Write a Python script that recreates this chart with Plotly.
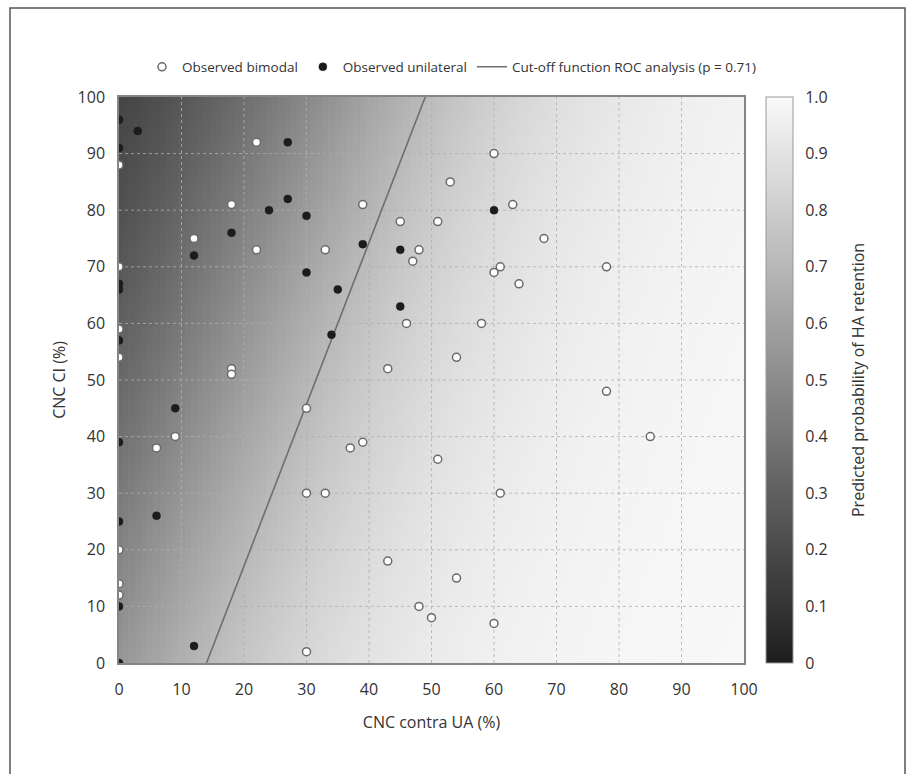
import numpy as np
import plotly.graph_objects as go

# ---- data ----
bimodal_x = [22, 0, 53, 60, 18, 39, 63, 45, 51, 12, 68, 22, 33, 48, 47, 0, 60, 61, 64, 78,
             46, 58, 0, 0, 54, 18, 18, 43, 78, 30, 9, 85, 6, 37, 39, 51, 30, 33, 61, 0,
             43, 54, 0, 0, 48, 50, 60, 30]
bimodal_y = [92, 88, 85, 90, 81, 81, 81, 78, 78, 75, 75, 73, 73, 73, 71, 70, 69, 70, 67, 70,
             60, 60, 59, 54, 54, 52, 51, 52, 48, 45, 40, 40, 38, 38, 39, 36, 30, 30, 30, 20,
             18, 15, 14, 12, 10, 8, 7, 2]

unilateral_x = [0, 3, 0, 27, 27, 24, 30, 18, 12, 39, 45, 60, 30, 35, 0, 0, 45, 34, 0, 9,
                0, 6, 0, 0, 12, 0]
unilateral_y = [96, 94, 91, 92, 82, 80, 79, 76, 72, 74, 73, 80, 69, 66, 67, 66, 63, 58, 57, 45,
                39, 26, 25, 10, 3, 0]

cutoff_x = [14, 49]
cutoff_y = [0, 100]

# logistic model behind the background (estimated from the shading)
model_intercept = 0.195
model_bx = 0.05
model_by = -0.0175

grid_vals = list(range(0, 101, 10))
tick_labels = [str(v) for v in grid_vals]
cb_vals = [i / 10 for i in range(11)]
cb_text = ["0", "0.1", "0.2", "0.3", "0.4", "0.5", "0.6", "0.7", "0.8", "0.9", "1.0"]

# ---- background probability surface ----
gx = np.arange(0, 101, 1)
gy = np.arange(0, 101, 1)
GX, GY = np.meshgrid(gx, gy)
Z = 1.0 / (1.0 + np.exp(-(model_intercept + model_bx * GX + model_by * GY)))

FONT = "Open Sans"
TXT = "#333"
colorscale = [[0, "#1e1e1e"], [1, "#f9f9f9"]]

# plot area in pixels: x 119..744, y 97..663
PX0, PX1, PY0, PY1 = 119, 744, 97, 663
def px_to_paper_x(px):
    return (px - PX0) / (PX1 - PX0)
def py_to_paper_y(py):
    return (PY1 - py) / (PY1 - PY0)

CB_LEFT, CB_THICK = 766, 27

fig = go.Figure()
fig.add_trace(go.Heatmap(
    x=gx, y=gy, z=Z, zmin=0, zmax=1, colorscale=colorscale, showscale=True,
    hoverinfo="skip", showlegend=False,
    colorbar=dict(
        x=px_to_paper_x(CB_LEFT), xanchor="left", xpad=0, ypad=0,
        y=0.5, yanchor="middle", lenmode="pixels", len=PY1 - PY0, thickness=CB_THICK,
        outlinecolor="#999", outlinewidth=1,
        tickvals=cb_vals, ticktext=cb_text, ticks="outside", ticklen=9,
        tickcolor="rgba(0,0,0,0)",
        tickfont=dict(family=FONT, size=16, color=TXT),
    ),
))

# dotted grid lines drawn above the surface
gl_x, gl_y = [], []
for v in grid_vals[1:-1]:
    gl_x += [v, v, None]
    gl_y += [0, 100, None]
    gl_x += [0, 100, None]
    gl_y += [v, v, None]
fig.add_trace(go.Scatter(x=gl_x, y=gl_y, mode="lines", showlegend=False, hoverinfo="skip",
                         line=dict(color="rgba(175,175,175,0.8)", width=1, dash="dot")))

fig.add_trace(go.Scatter(
    x=cutoff_x, y=cutoff_y, mode="lines", name="Cut-off function ROC analysis (p = 0.71)",
    line=dict(color="#6e6e6e", width=1.6), legendrank=3,
))
fig.add_trace(go.Scatter(
    x=bimodal_x, y=bimodal_y, mode="markers", name="Observed bimodal", legendrank=1,
    marker=dict(symbol="circle", size=8, color="white", line=dict(color="#6a6a6a", width=1.5)),
))
fig.add_trace(go.Scatter(
    x=unilateral_x, y=unilateral_y, mode="markers", name="Observed unilateral", legendrank=2,
    marker=dict(symbol="circle", size=8, color="#1c1c1c", line=dict(color="#1c1c1c", width=0.5)),
))

axis_common = dict(
    range=[0, 100], tickvals=grid_vals, ticktext=tick_labels, showgrid=False, zeroline=False,
    showline=True, linecolor="#858585", linewidth=1.5, mirror=True,
    ticks="", tickfont=dict(family=FONT, size=16, color=TXT),
)

# small tick dashes on both edges of the colour bar
cb_shapes = []
for v in cb_vals[1:-1]:
    for a, b in [(CB_LEFT, CB_LEFT + 4), (CB_LEFT + CB_THICK - 4, CB_LEFT + CB_THICK)]:
        cb_shapes.append(dict(type="line", xref="paper", yref="paper",
                              x0=px_to_paper_x(a), x1=px_to_paper_x(b), y0=v, y1=v,
                              line=dict(color="rgba(90,90,90,0.7)", width=1), layer="above"))

fig.update_layout(
    width=911, height=774,
    margin=dict(l=119, r=167, t=97, b=111, autoexpand=False),
    paper_bgcolor="white", plot_bgcolor="white",
    font=dict(family=FONT, size=16, color=TXT),
    xaxis=dict(axis_common, ticklabelstandoff=11,
               title=dict(text="CNC contra UA (%)", standoff=18,
                          font=dict(family=FONT, size=16, color=TXT))),
    yaxis=dict(axis_common, ticklabelstandoff=9,
               title=dict(text="CNC CI (%)", standoff=8,
                          font=dict(family=FONT, size=16, color=TXT))),
    legend=dict(orientation="h", x=px_to_paper_x(452), xanchor="center",
                y=py_to_paper_y(67), yanchor="middle",
                font=dict(family=FONT, size=13.5, color=TXT), bgcolor="rgba(0,0,0,0)",
                itemwidth=30),
    showlegend=True,
    shapes=cb_shapes,
    annotations=[dict(
        text="Predicted probability of HA retention", textangle=-90,
        xref="paper", yref="paper", x=px_to_paper_x(858), y=py_to_paper_y(380),
        xanchor="center", yanchor="middle", showarrow=False,
        font=dict(family=FONT, size=16, color=TXT),
    )],
)

# outer figure frame
fig.add_shape(type="rect", xref="paper", yref="paper",
              x0=px_to_paper_x(10), x1=px_to_paper_x(905),
              y0=py_to_paper_y(790), y1=py_to_paper_y(8),
              line=dict(color="#555", width=1.5), fillcolor="rgba(0,0,0,0)", layer="below")

fig.write_html("out.html")
